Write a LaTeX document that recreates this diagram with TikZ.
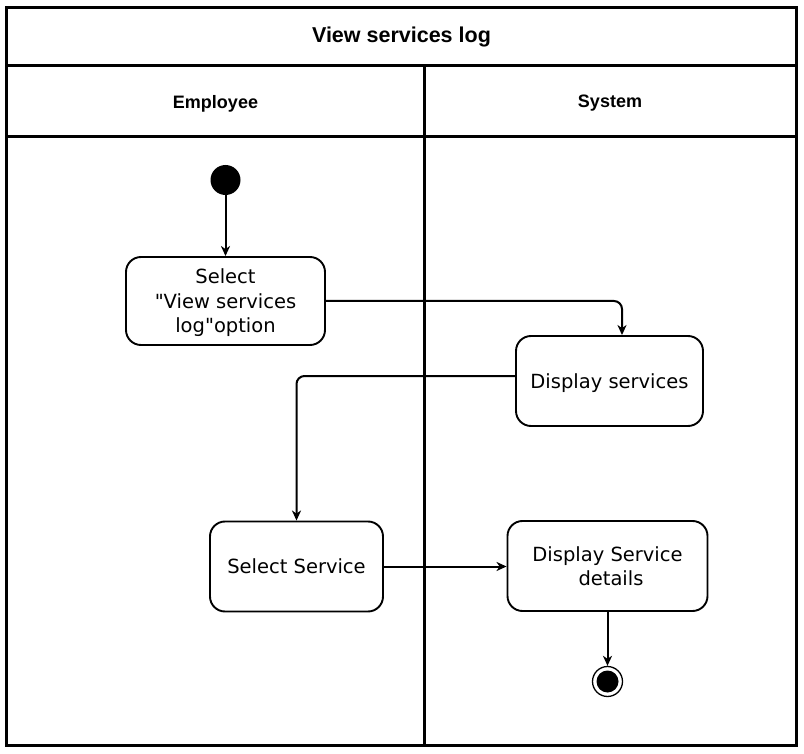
\documentclass[tikz,border=0pt]{standalone}
\usepackage{fontspec}
\setmainfont{DejaVu Sans}[Ligatures=TeXOff]
\newfontfamily\hdrfont{Liberation Sans}
\usetikzlibrary{arrows.meta}
\begin{document}
\begin{tikzpicture}[x=1pt,y=-1pt,
  frame/.style={line width=3pt},
  act/.style={draw,line width=1.9pt,rounded corners=15pt,align=center,font=\fontsize{19.5}{24.5}\selectfont,inner sep=0pt,text depth=0pt},
  flow/.style={line width=2pt,-{Stealth[length=10pt,width=9pt,inset=3pt]},rounded corners=8pt},
  hdr/.style={font=\hdrfont\bfseries\fontsize{18}{21}\selectfont},
  ttl/.style={font=\hdrfont\bfseries\fontsize{21.5}{25}\selectfont}]
\useasboundingbox (0,0) rectangle (804,754);
\fill[white] (0,0) rectangle (804,754);
% swimlane frame
\draw[frame] (6.5,7.5) rectangle (796.5,745.5);
\draw[frame] (6.5,66) -- (796.5,66);
\draw[frame] (6.5,136.5) -- (796.5,136.5);
\draw[frame] (424,66) -- (424,745.5);
\node[ttl] (title) at (401.5,37) {View services log};
\node[hdr] (emp) at (215.5,103.5) {Employee};
\node[hdr] (sys) at (610,103.5) {System};
% nodes
\node[circle,fill=black,minimum size=30pt,inner sep=0pt] (start) at (225.5,180) {};
\node[act,minimum width=199pt,minimum height=88pt] (b1) at (225.5,301) {Select\\"View services\\log"option};
\node[act,minimum width=187pt,minimum height=90pt] (b2) at (609.5,381) {Display services};
\node[act,minimum width=173pt,minimum height=90pt] (b3) at (296.5,566.5) {Select Service};
\node[act,minimum width=200pt,minimum height=90pt] (b4) at (607.5,566) {Display Service\\\hspace*{7pt}details};
\node[circle,draw,line width=1.3pt,minimum size=30pt,inner sep=0pt] (end) at (607.5,681.5) {};
\node[circle,fill=black,minimum size=22pt,inner sep=0pt] (endin) at (end) {};
% connectors
\draw[flow] (start) -- (b1);
\draw[flow] (b1.east) -| ([xshift=12.5pt]b2.north);
\draw[flow] ([yshift=5pt]b2.west) -| (b3.north);
\draw[flow] (b3.east) -- (b3.east -| b4.west);
\draw[flow] (b4.south) -- (end.north);
\end{tikzpicture}
\end{document}
